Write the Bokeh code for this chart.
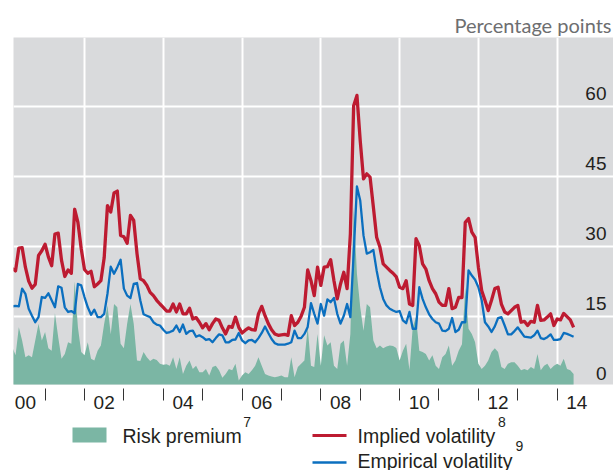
import pandas as pd
from bokeh.plotting import figure
from bokeh.layouts import column
from bokeh.models import Range1d, LinearAxis, FixedTicker, Grid
from bokeh.embed import file_html
from bokeh.resources import INLINE
from bokeh.core.properties import value

# ---------------- data (monthly, from March 2000) ----------------
start_month = "2000-03"

implied = [
    25.2, 24.7, 29.6, 29.7, 25.5, 22.5, 21.0, 21.8, 28.0, 29.0,
    30.4, 27.7, 25.8, 32.6, 32.8, 27.0, 23.5, 24.9, 24.2, 37.9, 35.1, 29.5,
    25.0, 24.2, 24.6, 21.3, 21.9, 22.6, 27.5, 38.7, 37.3, 41.4, 41.8, 32.3,
    32.0, 30.6, 36.6, 35.5, 28.4, 23.0, 22.6, 21.6, 20.1, 19.4, 18.4, 17.6,
    16.9, 16.1, 16.1, 17.6, 15.9, 17.6, 15.5, 15.5, 16.7, 14.4, 14.7, 13.7,
    12.5, 13.4, 12.1, 13.4, 14.4, 14.1, 12.5, 11.2, 12.8, 12.6, 14.8, 12.6,
    11.4, 12.0, 12.5, 12.1, 12.0, 15.5, 17.1, 15.1, 13.4, 12.1, 11.2, 10.9,
    11.0, 11.1, 10.9, 15.1, 13.0, 13.7, 15.0, 16.9, 24.9, 22.6, 19.4, 25.5,
    21.6, 25.5, 25.6, 27.1, 22.6, 18.7, 21.9, 24.4, 20.9, 32.6, 60.1, 62.3,
    52.6, 44.4, 45.5, 44.8, 38.4, 31.9, 29.8, 26.2, 25.5, 24.8, 24.2, 23.4,
    21.2, 20.9, 22.6, 17.6, 17.3, 31.6, 30.1, 26.2, 25.1, 22.6, 20.9, 19.8,
    18.0, 17.3, 17.3, 20.9, 16.6, 16.9, 19.0, 19.0, 35.1, 35.9, 33.0, 31.9,
    25.5, 20.5, 18.4, 16.2, 18.4, 20.9, 21.2, 17.6, 15.9, 15.5, 16.2, 16.9,
    17.3, 13.7, 13.9, 13.0, 13.9, 13.7, 17.3, 14.1, 14.2, 14.8, 15.5, 13.0,
    14.4, 14.2, 15.6, 14.9, 14.2, 12.6,
]

empirical = [
    17.1, 17.2, 17.1, 20.9, 19.8, 16.6, 15.1, 13.7, 14.8, 19.1,
    18.9, 19.9, 18.4, 16.9, 21.4, 21.1, 16.9, 15.9, 16.1, 15.6, 21.9, 21.6,
    19.1, 16.9, 15.3, 16.4, 14.8, 14.8, 15.5, 19.8, 25.6, 24.1, 25.5, 27.1,
    20.9, 19.4, 18.9, 21.9, 22.1, 18.4, 15.4, 15.1, 14.8, 13.7, 13.2, 13.0,
    12.1, 11.4, 11.6, 11.9, 13.0, 11.6, 13.2, 11.2, 11.8, 11.9, 10.6, 10.9,
    10.5, 9.9, 10.1, 9.4, 10.3, 11.1, 10.9, 9.4, 9.4, 9.9, 10.0, 11.4,
    9.8, 9.2, 9.8, 9.9, 9.4, 10.3, 11.4, 12.8, 11.4, 10.1, 9.2, 8.9,
    8.9, 8.9, 9.1, 9.4, 11.9, 10.3, 10.3, 11.2, 12.7, 17.8, 15.5, 13.4,
    17.6, 15.1, 18.6, 18.0, 18.9, 15.5, 13.4, 15.1, 17.6, 14.8, 28.4, 42.8,
    39.8, 32.3, 28.4, 28.7, 29.2, 24.8, 21.2, 18.7, 17.3, 16.6, 16.2, 15.9,
    16.1, 14.1, 13.5, 15.9, 12.3, 12.3, 21.2, 18.7, 16.9, 15.4, 14.4, 13.7,
    13.4, 11.9, 11.8, 12.3, 14.6, 11.6, 12.1, 13.7, 13.7, 24.8, 23.7, 22.8,
    21.2, 18.4, 13.7, 12.8, 11.6, 12.8, 14.6, 14.8, 13.0, 11.1, 11.1, 11.8,
    12.6, 11.6, 10.6, 10.5, 10.4, 10.9, 11.9, 10.3, 10.1, 10.5, 11.1, 9.9,
    9.9, 10.1, 11.4, 11.2, 10.9, 10.6,
]

premium = [
    8.4, 6.6, 12.6, 9.8, 6.2, 6.6, 6.2, 9.8, 13.4, 9.8,
    11.6, 8.1, 7.6, 15.6, 10.5, 5.9, 6.9, 9.4, 9.1, 22.5, 12.6, 7.3,
    6.6, 9.4, 5.9, 5.5, 7.6, 8.7, 13.4, 17.3, 11.1, 17.6, 16.9, 9.1,
    8.1, 13.4, 17.6, 13.4, 5.5, 5.4, 7.3, 6.2, 5.4, 5.9, 5.6, 4.8,
    4.6, 4.7, 4.4, 6.2, 3.7, 6.2, 2.6, 4.4, 5.5, 3.7, 4.4, 3.0,
    3.0, 3.7, 2.3, 4.1, 4.4, 3.4, 1.8, 2.6, 3.7, 3.4, 4.8, 1.2,
    2.3, 3.0, 2.6, 3.4, 4.4, 6.2, 4.4, 2.6, 2.3, 2.1, 1.9, 2.1,
    2.3, 1.9, 1.9, 6.2, 1.9, 4.1, 4.8, 5.5, 12.6, 4.4, 4.1, 11.2,
    4.4, 10.9, 8.7, 9.4, 4.4, 3.7, 9.1, 9.8, 4.4, 11.2, 38.4, 24.1,
    16.9, 11.9, 17.6, 16.9, 9.8, 8.1, 8.7, 8.1, 8.5, 8.7, 8.6, 8.2,
    5.5, 7.6, 9.1, 3.4, 12.6, 14.8, 7.6, 7.3, 6.9, 5.5, 6.6, 4.4,
    3.7, 6.2, 6.9, 8.7, 4.4, 5.5, 7.6, 9.0, 21.2, 12.3, 11.2, 9.4,
    4.8, 3.7, 4.4, 5.5, 7.3, 8.1, 7.3, 4.1, 3.7, 4.8, 5.1, 5.1,
    4.4, 3.4, 3.7, 3.4, 4.1, 3.7, 6.9, 3.4, 4.4, 4.8, 3.7, 4.4,
    4.8, 4.4, 5.9, 3.7, 3.4, 2.6,
]

year_boundaries = [2001, 2002, 2003, 2004, 2005, 2006, 2007, 2008,
                   2009, 2010, 2011, 2012, 2013, 2014]
grid_years = [2002, 2004, 2006, 2008, 2010, 2012, 2014]
label_years = [2000, 2002, 2004, 2006, 2008, 2010, 2012, 2014]
x_labels = ["00", "02", "04", "06", "08", "10", "12", "14"]
y_ticks = [0, 15, 30, 45, 60]
y_labels = ["0", "15", "30", "45", "60"]

series_names = ["Risk premium", "Implied volatility", "Empirical volatility"]
series_notes = ["7", "8", "9"]

# ---------------- styles ----------------
RED = "#bd1b31"
BLUE = "#0b6fbf"
GREEN = "#7bb6a4"
BG = "#d9dadc"
TXT = "#231f20"
FONT = "Liberation Sans"

dates = pd.date_range(start_month, periods=len(implied), freq="MS")
t = list(dates.year + (dates.month - 1) / 12.0)

# ---------------- main chart ----------------
p = figure(width=613, height=420, output_backend="svg", toolbar_location=None,
           title="Percentage points",
           x_range=Range1d(2000.198, 2015.43), y_range=Range1d(0.36, 74.7),
           x_axis_type=None, y_axis_type=None,
           min_border_left=13, min_border_right=0,
           min_border_top=37, min_border_bottom=36)
p.background_fill_color = BG
p.border_fill_color = "white"
p.outline_line_color = None
p.title.align = "right"
p.title.text_font = "Lato"
p.title.text_font_style = "normal"
p.title.text_font_size = "20px"
p.title.text_color = "#6d6e70"
p.title.standoff = 1
p.title.offset = 2

p.add_layout(Grid(dimension=0, ticker=FixedTicker(ticks=grid_years),
                  grid_line_color="white", grid_line_width=2))
p.add_layout(Grid(dimension=1, ticker=FixedTicker(ticks=y_ticks),
                  grid_line_color="white", grid_line_width=2))

mid_years = [y + 0.5 for y in label_years]
xaxis = LinearAxis(ticker=FixedTicker(ticks=mid_years, minor_ticks=year_boundaries),
                   major_label_overrides={m: l for m, l in zip(mid_years, x_labels)})
xaxis.axis_line_color = None
xaxis.major_tick_line_color = None
xaxis.major_tick_in = 0
xaxis.major_tick_out = 0
xaxis.minor_tick_line_color = "#333333"
xaxis.minor_tick_line_width = 1
xaxis.minor_tick_in = -4
xaxis.minor_tick_out = 16
xaxis.major_label_standoff = -5
xaxis.major_label_text_font = FONT
xaxis.major_label_text_font_size = "19px"
xaxis.major_label_text_color = TXT
p.add_layout(xaxis, "below")

p.varea(x=t, y1=0, y2=premium, fill_color=GREEN)
p.line(t, empirical, line_color=BLUE, line_width=2.3, line_join="round")
p.line(t, implied, line_color=RED, line_width=3.3, line_join="round")

p.text(x=[p.x_range.end] * len(y_ticks), y=y_ticks, text=y_labels,
       x_offset=-7, y_offset=-13, text_align="right", text_baseline="alphabetic",
       text_font=value(FONT), text_font_size="19px", text_color=TXT)

# ---------------- legend strip (pixel-like coordinates) ----------------
# its frame is aligned with the main frame by the column layout (x from 13 to 613)
lg = figure(width=613, height=60, output_backend="svg", toolbar_location=None,
            x_range=Range1d(13, 613), y_range=Range1d(470, 410),
            x_axis_type=None, y_axis_type=None,
            min_border_left=0, min_border_right=0,
            min_border_top=0, min_border_bottom=0)
lg.margin = (-10, 0, 0, 0)
lg.outline_line_color = None
lg.background_fill_color = "white"
lg.border_fill_color = "white"
lg.background_fill_alpha = 0
lg.border_fill_alpha = 0

lg.quad(left=[72], right=[106], top=[427], bottom=[442], fill_color=GREEN, line_color=None)
lg.segment(x0=[312], x1=[346], y0=[435], y1=[435], line_color=RED, line_width=3)
lg.segment(x0=[312], x1=[346], y0=[462], y1=[462], line_color=BLUE, line_width=2.5)

lg.text(x=[122, 357, 357], y=[435.5, 435.5, 460.5], text=series_names,
        text_align="left", text_baseline="alphabetic",
        text_font=value(FONT), text_font_size="19.5px", text_color=TXT)
lg.text(x=[242.7, 497.5, 515], y=[421.5, 421.2, 445.2], text=series_notes,
        text_align="left", text_baseline="alphabetic",
        text_font=value(FONT), text_font_size="14px", text_color=TXT)

layout = column(p, lg, spacing=0)
open("out.html", "w").write(file_html(layout, INLINE))
